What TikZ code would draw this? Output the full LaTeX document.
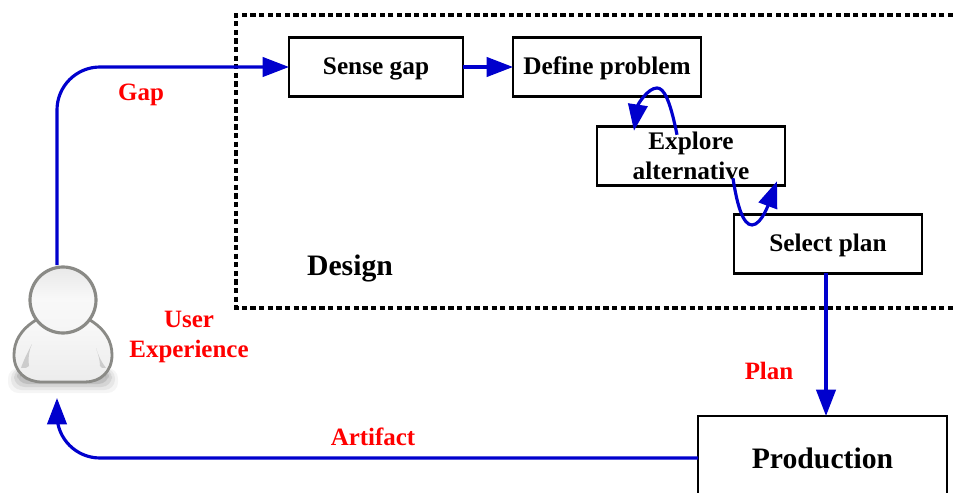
\documentclass[tikz,border=0pt]{standalone}
\usepackage{fontspec}
\setmainfont{Liberation Serif}
\usetikzlibrary{arrows.meta}
\usetikzlibrary{calc}
\definecolor{flowblue}{RGB}{0,0,205}
\definecolor{personedge}{RGB}{138,138,134}
\tikzset{
  stagebox/.style={draw,line width=1.6pt,outer sep=0pt,inner sep=0pt,minimum width=3.76cm,minimum height=1.17cm,align=center,font=\fontsize{14.4}{16.8}\selectfont\bfseries},
  lowtext/.style={text height=8pt,text depth=0pt},
  flow/.style={draw=flowblue,line width=1.8pt,-{Triangle[length=15pt,width=11pt]}},
  tag/.style={text=red,align=center,font=\fontsize{14.2}{17}\selectfont\bfseries}
}
\begin{document}
\begin{tikzpicture}[x=0.02cm,y=-0.02cm]
            \useasboundingbox (0,0) rectangle (953,493);
            % design area, open on the right
            \draw[line width=1.9pt,dash pattern=on 3pt off 1.9pt] (953,15) -- (236,15) -- (236,308) -- (953,308);
            \node (design) at (350,268) {\fontsize{16.9}{20}\selectfont\bfseries Design};
            % stages
            \node[stagebox,lowtext,minimum width=3.48cm] (sense) at (376,67) {Sense gap};
            \node[stagebox,lowtext] (define) at (607,67) {Define problem};
            \node[stagebox] (explore) at (691,156) {Explore\\alternative};
            \node[stagebox,lowtext] (select) at (828,244) {Select plan};
            \node[stagebox,minimum width=4.98cm,minimum height=1.68cm,font=\fontsize{16.9}{20}\selectfont\bfseries] (production) at (822.5,458) {Production};
            % person
            \foreach \s/\o in {0/0.04,3/0.06,6/0.08,9/0.10,12/0.12} {
                \fill[black,opacity=\o,rounded corners=6pt] (8+\s,368) rectangle (118-\s,393-\s);
            }
            \draw[personedge,line width=1.6pt,top color=gray!5,bottom color=gray!15] (36,320) .. controls (20,330) and (14,342) .. (14,355) .. controls (14,372) and (26,382) .. (42,382) -- (85,382) .. controls (100,382) and (112,372) .. (112,355) .. controls (112,342) and (106,330) .. (90,320) -- cycle;
            \fill[gray!40] (32,344) .. controls (28,352) and (24,359) .. (21,368) .. controls (25,368) and (28,368) .. (29,366) .. controls (28,358) and (29,350) .. (32,344) -- cycle;
            \fill[gray!40] (96,348) .. controls (98,354) and (100,360) .. (106,368) .. controls (103,368) and (100,368) .. (100,366) .. controls (100,360) and (98,354) .. (96,348) -- cycle;
            \draw[personedge,line width=1.8pt,top color=gray!18,bottom color=gray!8,middle color=gray!5] (63,300) circle [radius=33];
            \coordinate (userout) at (57,265);
            \coordinate (userin) at (57,398);
            % connectors
            \draw[flow,rounded corners=43*0.02cm] (userout) -- (userout |- sense) -- (sense);
            \draw[flow] (sense) -- (define);
            \draw[flow] (826,0 |- select.south) -- (826,0 |- production.north);
            \draw[flow,rounded corners=43*0.02cm] (production.west) -- (userin |- production) -- (userin);
            \draw[flow] ($(explore.north) + (-14,8)$) .. controls (670,100) and (664,88) .. (657,88) .. controls (648,88) and (638,104) .. ($(explore.north) + (-57,4)$);
            \draw[flow] ($(explore.south) + (42,-7)$) .. controls (737,205) and (743,225) .. (752,225) .. controls (762,225) and (770,200) .. ($(explore.south) + (86,-4)$);
            % labels
            \node[tag] (gap) at (141,95) {Gap};
            \node[tag] (experience) at (189,337) {User\\Experience};
            \node[tag] (plan) at (769,371) {Plan};
            \node[tag] (artifact) at (373,437) {Artifact};
\end{tikzpicture}
\end{document}
